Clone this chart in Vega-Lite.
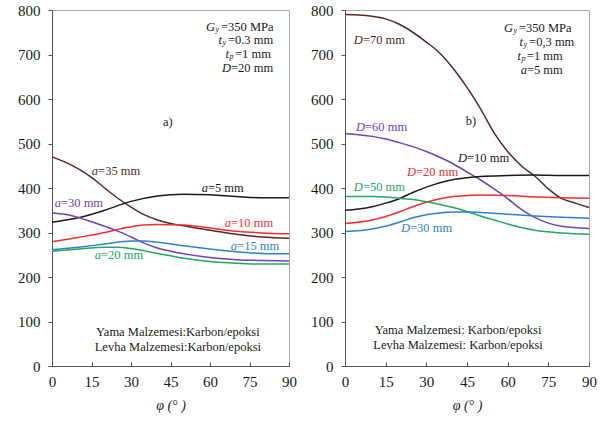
{
  "$schema": "https://vega.github.io/schema/vega-lite/v6.json",
  "padding": {"left": 17, "top": 2, "right": 8, "bottom": 4},
  "spacing": 13,
  "resolve": {"scale": {"color": "independent"}},
  "datasets": {
    "curvesA": [
      {"s":"a=35","phi":0,"v":470},{"s":"a=35","phi":5,"v":458},{"s":"a=35","phi":10,"v":443},{"s":"a=35","phi":15,"v":424},{"s":"a=35","phi":20,"v":400},{"s":"a=35","phi":25,"v":377},{"s":"a=35","phi":30,"v":357},{"s":"a=35","phi":35,"v":340},{"s":"a=35","phi":40,"v":328},{"s":"a=35","phi":45,"v":320},{"s":"a=35","phi":50,"v":315},{"s":"a=35","phi":60,"v":305},{"s":"a=35","phi":70,"v":296},{"s":"a=35","phi":80,"v":290},{"s":"a=35","phi":90,"v":287},
      {"s":"a=5","phi":0,"v":323},{"s":"a=5","phi":10,"v":333},{"s":"a=5","phi":20,"v":350},{"s":"a=5","phi":30,"v":370},{"s":"a=5","phi":40,"v":382},{"s":"a=5","phi":50,"v":386},{"s":"a=5","phi":60,"v":385},{"s":"a=5","phi":70,"v":381},{"s":"a=5","phi":80,"v":378},{"s":"a=5","phi":90,"v":378},
      {"s":"a=30","phi":0,"v":344},{"s":"a=30","phi":5,"v":341},{"s":"a=30","phi":10,"v":334},{"s":"a=30","phi":15,"v":324},{"s":"a=30","phi":20,"v":314},{"s":"a=30","phi":25,"v":303},{"s":"a=30","phi":30,"v":290},{"s":"a=30","phi":35,"v":276},{"s":"a=30","phi":40,"v":265},{"s":"a=30","phi":45,"v":258},{"s":"a=30","phi":50,"v":252},{"s":"a=30","phi":60,"v":244},{"s":"a=30","phi":70,"v":239},{"s":"a=30","phi":80,"v":237},{"s":"a=30","phi":90,"v":236},
      {"s":"a=10","phi":0,"v":279},{"s":"a=10","phi":10,"v":289},{"s":"a=10","phi":20,"v":300},{"s":"a=10","phi":25,"v":307},{"s":"a=10","phi":30,"v":313},{"s":"a=10","phi":35,"v":317},{"s":"a=10","phi":40,"v":318},{"s":"a=10","phi":50,"v":317},{"s":"a=10","phi":60,"v":310},{"s":"a=10","phi":70,"v":303},{"s":"a=10","phi":80,"v":299},{"s":"a=10","phi":90,"v":297},
      {"s":"a=15","phi":0,"v":261},{"s":"a=15","phi":10,"v":267},{"s":"a=15","phi":20,"v":274},{"s":"a=15","phi":30,"v":281},{"s":"a=15","phi":35,"v":281},{"s":"a=15","phi":40,"v":278},{"s":"a=15","phi":50,"v":270},{"s":"a=15","phi":60,"v":263},{"s":"a=15","phi":70,"v":257},{"s":"a=15","phi":80,"v":253},{"s":"a=15","phi":90,"v":252},
      {"s":"a=20","phi":0,"v":258},{"s":"a=20","phi":10,"v":263},{"s":"a=20","phi":20,"v":267},{"s":"a=20","phi":25,"v":267},{"s":"a=20","phi":30,"v":264},{"s":"a=20","phi":40,"v":253},{"s":"a=20","phi":50,"v":242},{"s":"a=20","phi":60,"v":235},{"s":"a=20","phi":70,"v":231},{"s":"a=20","phi":80,"v":229},{"s":"a=20","phi":90,"v":229}
    ],
    "curvesB": [
      {"s":"D=70","phi":0,"v":790},{"s":"D=70","phi":5,"v":789},{"s":"D=70","phi":10,"v":786},{"s":"D=70","phi":15,"v":780},{"s":"D=70","phi":20,"v":768},{"s":"D=70","phi":25,"v":750},{"s":"D=70","phi":30,"v":728},{"s":"D=70","phi":35,"v":703},{"s":"D=70","phi":40,"v":668},{"s":"D=70","phi":45,"v":626},{"s":"D=70","phi":50,"v":578},{"s":"D=70","phi":55,"v":524},{"s":"D=70","phi":60,"v":482},{"s":"D=70","phi":65,"v":450},{"s":"D=70","phi":70,"v":427},{"s":"D=70","phi":75,"v":398},{"s":"D=70","phi":80,"v":376},{"s":"D=70","phi":85,"v":366},{"s":"D=70","phi":90,"v":356},
      {"s":"D=60","phi":0,"v":522},{"s":"D=60","phi":10,"v":516},{"s":"D=60","phi":15,"v":510},{"s":"D=60","phi":20,"v":502},{"s":"D=60","phi":25,"v":493},{"s":"D=60","phi":30,"v":482},{"s":"D=60","phi":35,"v":469},{"s":"D=60","phi":40,"v":454},{"s":"D=60","phi":45,"v":436},{"s":"D=60","phi":50,"v":418},{"s":"D=60","phi":55,"v":398},{"s":"D=60","phi":60,"v":376},{"s":"D=60","phi":65,"v":352},{"s":"D=60","phi":70,"v":334},{"s":"D=60","phi":75,"v":321},{"s":"D=60","phi":80,"v":314},{"s":"D=60","phi":90,"v":309},
      {"s":"D=10","phi":0,"v":350},{"s":"D=10","phi":5,"v":353},{"s":"D=10","phi":10,"v":358},{"s":"D=10","phi":15,"v":366},{"s":"D=10","phi":20,"v":376},{"s":"D=10","phi":25,"v":390},{"s":"D=10","phi":30,"v":402},{"s":"D=10","phi":35,"v":412},{"s":"D=10","phi":40,"v":419},{"s":"D=10","phi":45,"v":423},{"s":"D=10","phi":50,"v":426},{"s":"D=10","phi":60,"v":428},{"s":"D=10","phi":70,"v":429},{"s":"D=10","phi":80,"v":428},{"s":"D=10","phi":90,"v":428},
      {"s":"D=20","phi":0,"v":320},{"s":"D=20","phi":10,"v":328},{"s":"D=20","phi":15,"v":336},{"s":"D=20","phi":20,"v":346},{"s":"D=20","phi":25,"v":358},{"s":"D=20","phi":30,"v":368},{"s":"D=20","phi":35,"v":376},{"s":"D=20","phi":40,"v":381},{"s":"D=20","phi":45,"v":383},{"s":"D=20","phi":50,"v":384},{"s":"D=20","phi":60,"v":383},{"s":"D=20","phi":70,"v":380},{"s":"D=20","phi":80,"v":378},{"s":"D=20","phi":90,"v":377},
      {"s":"D=50","phi":0,"v":381},{"s":"D=50","phi":10,"v":381},{"s":"D=50","phi":15,"v":380},{"s":"D=50","phi":20,"v":377},{"s":"D=50","phi":25,"v":374},{"s":"D=50","phi":30,"v":369},{"s":"D=50","phi":35,"v":363},{"s":"D=50","phi":40,"v":356},{"s":"D=50","phi":45,"v":347},{"s":"D=50","phi":50,"v":337},{"s":"D=50","phi":55,"v":328},{"s":"D=50","phi":60,"v":319},{"s":"D=50","phi":65,"v":311},{"s":"D=50","phi":70,"v":305},{"s":"D=50","phi":80,"v":299},{"s":"D=50","phi":90,"v":296},
      {"s":"D=30","phi":0,"v":302},{"s":"D=30","phi":10,"v":308},{"s":"D=30","phi":15,"v":314},{"s":"D=30","phi":20,"v":323},{"s":"D=30","phi":25,"v":333},{"s":"D=30","phi":30,"v":340},{"s":"D=30","phi":35,"v":344},{"s":"D=30","phi":40,"v":346},{"s":"D=30","phi":45,"v":346},{"s":"D=30","phi":50,"v":345},{"s":"D=30","phi":55,"v":343},{"s":"D=30","phi":60,"v":341},{"s":"D=30","phi":70,"v":337},{"s":"D=30","phi":80,"v":334},{"s":"D=30","phi":90,"v":332}
    ],
    "labelsA": [
      {"s":"a=35","sym":"a","rest":"=35 mm","phi":17.5,"v":439},
      {"s":"a=5","sym":"a","rest":"=5 mm","phi":59.2,"v":400},
      {"s":"a=30","sym":"a","rest":"=30 mm","phi":3.4,"v":366},
      {"s":"a=10","sym":"a","rest":"=10 mm","phi":68,"v":321},
      {"s":"a=15","sym":"a","rest":"=15 mm","phi":70.3,"v":270},
      {"s":"a=20","sym":"a","rest":"=20 mm","phi":18.6,"v":249}
    ],
    "labelsB": [
      {"s":"D=70","sym":"D","rest":"=70 mm","phi":6.6,"v":732},
      {"s":"D=60","sym":"D","rest":"=60 mm","phi":7.4,"v":538},
      {"s":"D=10","sym":"D","rest":"=10 mm","phi":45,"v":468},
      {"s":"D=20","sym":"D","rest":"=20 mm","phi":26.2,"v":436},
      {"s":"D=50","sym":"D","rest":"=50 mm","phi":6.6,"v":402},
      {"s":"D=30","sym":"D","rest":"=30 mm","phi":24,"v":310}
    ],
    "paramsA": [
      {"sym":"G","sub":"y","rest":"=350 MPa","phi":64.2,"v":762},
      {"sym":"t","sub":"y","rest":"=0.3 mm","phi":66.8,"v":732},
      {"sym":"t","sub":"p","rest":"=1 mm","phi":69.5,"v":701},
      {"sym":"D","sub":"","rest":"=20 mm","phi":68,"v":670}
    ],
    "paramsB": [
      {"sym":"G","sub":"y","rest":" =350 MPa","phi":64.2,"v":760},
      {"sym":"t","sub":"y","rest":"=0,3 mm","phi":67.9,"v":729},
      {"sym":"t","sub":"p","rest":"=1 mm","phi":67.1,"v":697},
      {"sym":"a","sub":"","rest":"=5 mm","phi":67.1,"v":665}
    ],
    "notesA": [
      {"txt":"a)","phi":44,"v":548},
      {"txt":"Yama Malzemesi:Karbon/epoksi","phi":47.8,"v":76},
      {"txt":"Levha Malzemesi:Karbon/epoksi","phi":47.8,"v":43}
    ],
    "notesB": [
      {"txt":"b)","phi":46.5,"v":551},
      {"txt":"Yama Malzemesi: Karbon/epoksi","phi":41.7,"v":81},
      {"txt":"Levha Malzemesi: Karbon/epoksi","phi":41.7,"v":47}
    ]
  },
  "hconcat": [
    {
      "width": 237, "height": 356,
      "layer": [
        {"data":{"name":"curvesA"},"mark":{"type":"line","interpolate":"monotone","strokeWidth":1.5},
         "encoding":{
           "x":{"field":"phi","type":"quantitative","scale":{"domain":[0,90],"nice":false},"axis":{"values":[0,15,30,45,60,75,90],"tickCount":20,"title":"φ (° )","labelFlush":false,"labelOverlap":false}},
           "y":{"field":"v","type":"quantitative","scale":{"domain":[0,800],"nice":false},"axis":{"values":[0,100,200,300,400,500,600,700,800],"tickCount":20,"title":null,"labelFlush":false,"labelOverlap":false}},
           "color":{"field":"s","type":"nominal","scale":{"domain":["a=5","a=10","a=15","a=20","a=30","a=35"],"range":["#1a1a1a","#ee3030","#2f7fd0","#22a860","#7040c0","#5a2626"]},"legend":null}}},
        {"data":{"name":"labelsA"},"mark":{"type":"text","align":"right","baseline":"middle","fontStyle":"italic"},
         "encoding":{"x":{"field":"phi","type":"quantitative"},"y":{"field":"v","type":"quantitative"},"text":{"field":"sym"},"color":{"field":"s","type":"nominal","legend":null}}},
        {"data":{"name":"labelsA"},"mark":{"type":"text","align":"left","baseline":"middle"},
         "encoding":{"x":{"field":"phi","type":"quantitative"},"y":{"field":"v","type":"quantitative"},"text":{"field":"rest"},"color":{"field":"s","type":"nominal","legend":null}}},
        {"data":{"name":"paramsA"},"transform":[{"filter":"datum.sub != ''"}],"mark":{"type":"text","align":"right","baseline":"middle","fontStyle":"italic","dx":-6,"color":"#1a1a1a"},
         "encoding":{"x":{"field":"phi","type":"quantitative"},"y":{"field":"v","type":"quantitative"},"text":{"field":"sym"}}},
        {"data":{"name":"paramsA"},"transform":[{"filter":"datum.sub != ''"}],"mark":{"type":"text","align":"left","baseline":"middle","fontStyle":"italic","fontSize":8,"dx":-5.5,"dy":3,"color":"#1a1a1a"},
         "encoding":{"x":{"field":"phi","type":"quantitative"},"y":{"field":"v","type":"quantitative"},"text":{"field":"sub"}}},
        {"data":{"name":"paramsA"},"transform":[{"filter":"datum.sub == ''"}],"mark":{"type":"text","align":"right","baseline":"middle","fontStyle":"italic","color":"#1a1a1a"},
         "encoding":{"x":{"field":"phi","type":"quantitative"},"y":{"field":"v","type":"quantitative"},"text":{"field":"sym"}}},
        {"data":{"name":"paramsA"},"mark":{"type":"text","align":"left","baseline":"middle","color":"#1a1a1a"},
         "encoding":{"x":{"field":"phi","type":"quantitative"},"y":{"field":"v","type":"quantitative"},"text":{"field":"rest"}}},
        {"data":{"name":"notesA"},"mark":{"type":"text","align":"center","baseline":"middle","color":"#1a1a1a"},
         "encoding":{"x":{"field":"phi","type":"quantitative"},"y":{"field":"v","type":"quantitative"},"text":{"field":"txt"}}}
      ]
    },
    {
      "width": 244, "height": 356,
      "layer": [
        {"data":{"name":"curvesB"},"mark":{"type":"line","interpolate":"monotone","strokeWidth":1.5},
         "encoding":{
           "x":{"field":"phi","type":"quantitative","scale":{"domain":[0,90],"nice":false},"axis":{"values":[0,15,30,45,60,75,90],"tickCount":20,"title":"φ (° )","labelFlush":false,"labelOverlap":false}},
           "y":{"field":"v","type":"quantitative","scale":{"domain":[0,800],"nice":false},"axis":{"values":[0,100,200,300,400,500,600,700,800],"tickCount":20,"title":null,"labelFlush":false,"labelOverlap":false}},
           "color":{"field":"s","type":"nominal","scale":{"domain":["D=10","D=20","D=30","D=50","D=60","D=70"],"range":["#1a1a1a","#ee3030","#2f7fd0","#22a860","#7040c0","#5a2626"]},"legend":null}}},
        {"data":{"name":"labelsB"},"mark":{"type":"text","align":"right","baseline":"middle","fontStyle":"italic"},
         "encoding":{"x":{"field":"phi","type":"quantitative"},"y":{"field":"v","type":"quantitative"},"text":{"field":"sym"},"color":{"field":"s","type":"nominal","legend":null}}},
        {"data":{"name":"labelsB"},"mark":{"type":"text","align":"left","baseline":"middle"},
         "encoding":{"x":{"field":"phi","type":"quantitative"},"y":{"field":"v","type":"quantitative"},"text":{"field":"rest"},"color":{"field":"s","type":"nominal","legend":null}}},
        {"data":{"name":"paramsB"},"transform":[{"filter":"datum.sub != ''"}],"mark":{"type":"text","align":"right","baseline":"middle","fontStyle":"italic","dx":-6,"color":"#1a1a1a"},
         "encoding":{"x":{"field":"phi","type":"quantitative"},"y":{"field":"v","type":"quantitative"},"text":{"field":"sym"}}},
        {"data":{"name":"paramsB"},"transform":[{"filter":"datum.sub != ''"}],"mark":{"type":"text","align":"left","baseline":"middle","fontStyle":"italic","fontSize":8,"dx":-5.5,"dy":3,"color":"#1a1a1a"},
         "encoding":{"x":{"field":"phi","type":"quantitative"},"y":{"field":"v","type":"quantitative"},"text":{"field":"sub"}}},
        {"data":{"name":"paramsB"},"transform":[{"filter":"datum.sub == ''"}],"mark":{"type":"text","align":"right","baseline":"middle","fontStyle":"italic","color":"#1a1a1a"},
         "encoding":{"x":{"field":"phi","type":"quantitative"},"y":{"field":"v","type":"quantitative"},"text":{"field":"sym"}}},
        {"data":{"name":"paramsB"},"mark":{"type":"text","align":"left","baseline":"middle","color":"#1a1a1a"},
         "encoding":{"x":{"field":"phi","type":"quantitative"},"y":{"field":"v","type":"quantitative"},"text":{"field":"rest"}}},
        {"data":{"name":"notesB"},"mark":{"type":"text","align":"center","baseline":"middle","color":"#1a1a1a"},
         "encoding":{"x":{"field":"phi","type":"quantitative"},"y":{"field":"v","type":"quantitative"},"text":{"field":"txt"}}}
      ]
    }
  ],
  "config": {
    "font": "Liberation Serif",
    "view": {"stroke": "#a8a8a8", "strokeWidth": 1},
    "axis": {"grid": false, "labelOverlap": false, "labelFont": "Liberation Serif", "labelFontSize": 15, "labelColor": "#1a1a1a", "titleFont": "Liberation Serif", "titleFontSize": 14, "titleFontWeight": "normal", "titleColor": "#1a1a1a", "domainColor": "#555555", "tickColor": "#555555"},
    "axisX": {"tickSize": -4, "labelPadding": 12, "titlePadding": 9, "titleFontStyle": "italic"},
    "axisY": {"tickSize": 4, "labelPadding": 8},
    "text": {"font": "Liberation Serif", "fontSize": 12.5}
  }
}
